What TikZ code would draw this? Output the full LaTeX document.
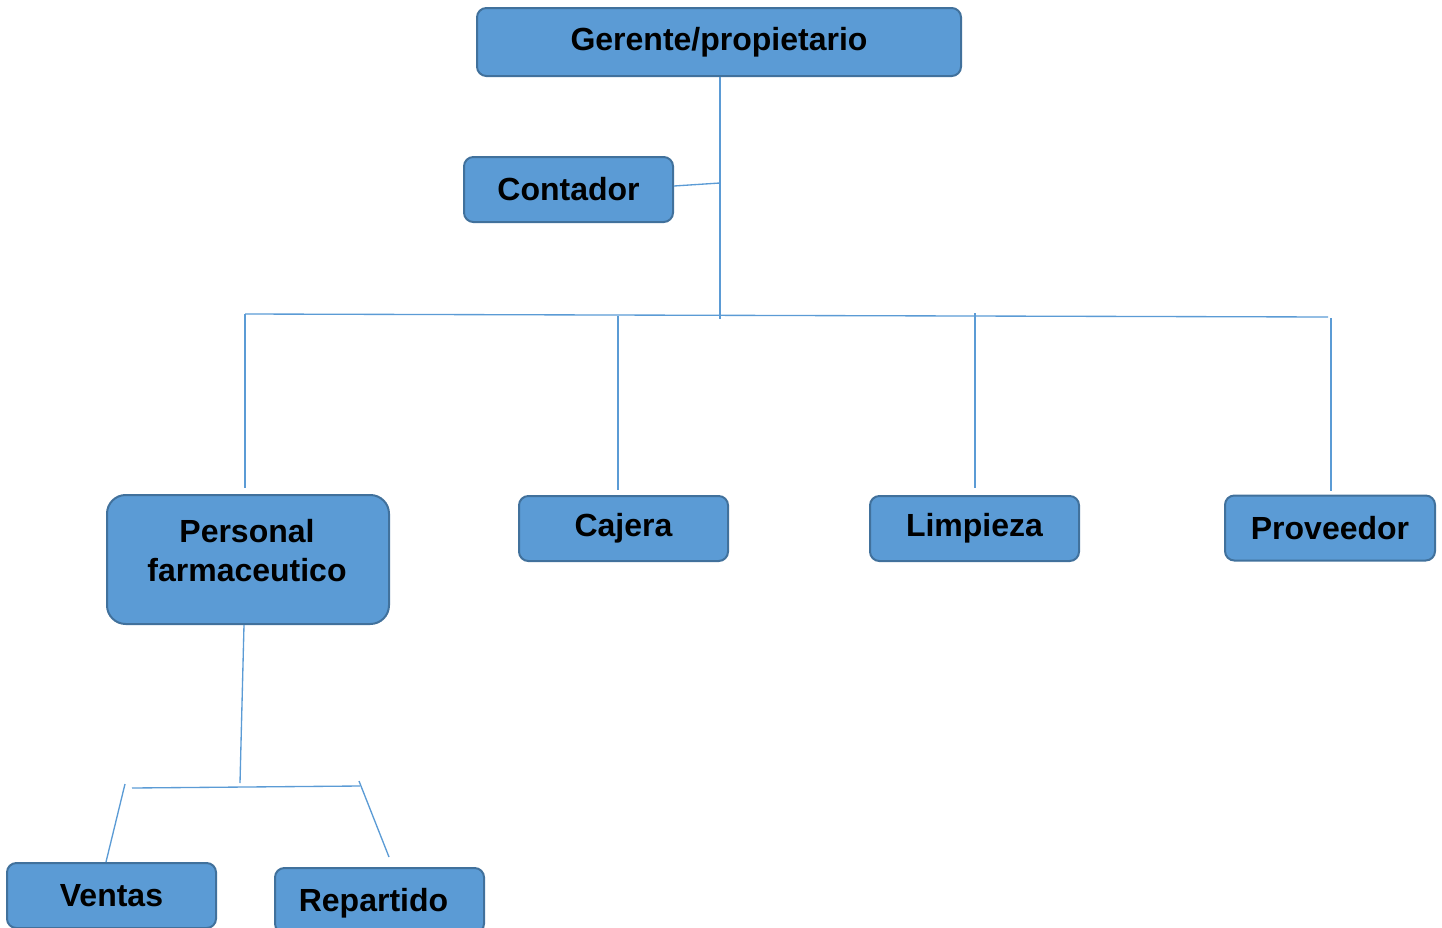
\documentclass[tikz,border=0pt]{standalone}
\usepackage{fontspec}
\setmainfont{Liberation Sans}
\usetikzlibrary{calc}
\definecolor{boxfill}{HTML}{5B9BD5}
\definecolor{boxedge}{HTML}{41719C}
\definecolor{linkc}{HTML}{5B9BD5}
\begin{document}
\begin{tikzpicture}[x=0.75pt,y=-0.75pt,
  labeltext/.style={inner sep=0pt,align=center,font=\fontsize{24}{29}\selectfont\bfseries},
  orgbox/.style={draw=boxedge,fill=boxfill,line width=1.5pt,rounded corners=7pt,
    labeltext,minimum width=156.75pt,minimum height=48.75pt},
  link/.style={draw=linkc,line width=1pt}]
\useasboundingbox (0,0) rectangle (1442,928);
\clip (0,0) rectangle (1442,928);
\node[orgbox,minimum width=363pt,minimum height=51pt] (ger) at (719,42) {Gerente/propietario};
\node[orgbox] (con) at (568.5,189.5) {Contador};
\node[orgbox,minimum width=211.5pt,minimum height=96.75pt,rounded corners=14pt] (pf) at (248,559.5) {};
\node[labeltext] (pftext) at ($(pf.center)+(-1,-9)$) {Personal\\farmaceutico};
\node[orgbox] (caj) at (623.5,528.5) {Cajera};
\node[orgbox] (lim) at (974.5,528.5) {Limpieza};
\node[orgbox,minimum width=157.5pt] (pro) at (1330,528) {Proveedor};
\node[orgbox] (ven) at (111.5,895.5) {Ventas};
\node[orgbox] (rep) at (379.5,900.5) {};
\node[labeltext] (reptext) at ($(rep.center)+(-6,3)$) {Repartido};
% junction coordinates
\coordinate (gbot) at (720,319);
\coordinate (cj) at (720,183);
\coordinate (hl) at (245,314);
\coordinate (hr) at (1328,317);
\coordinate (cajt) at (618,316);
\coordinate (limt) at (975,313);
\coordinate (prot) at (1331,318);
\coordinate (pfb) at (240,783);
\coordinate (bl) at (132,788);
\coordinate (br) at (360,786);
\coordinate (vt) at (125,784);
\coordinate (rt) at (359,781);
% connectors
\draw[link] (ger.south -| gbot) -- (gbot);
\draw[link] (con.east) ++(0,-3.5) -- (cj);
\draw[link] (hl) -- (hr);
\draw[link] (hl) -- (245,488);
\draw[link] (cajt) -- (618,490);
\draw[link] (limt) -- (975,488);
\draw[link] (prot) -- (1331,491);
\draw[link] (pf.south -| 244,0) -- (pfb);
\draw[link] (bl) -- (br);
\draw[link] (vt) -- (106,862);
\draw[link] (rt) -- (389,857);
\end{tikzpicture}
\end{document}
